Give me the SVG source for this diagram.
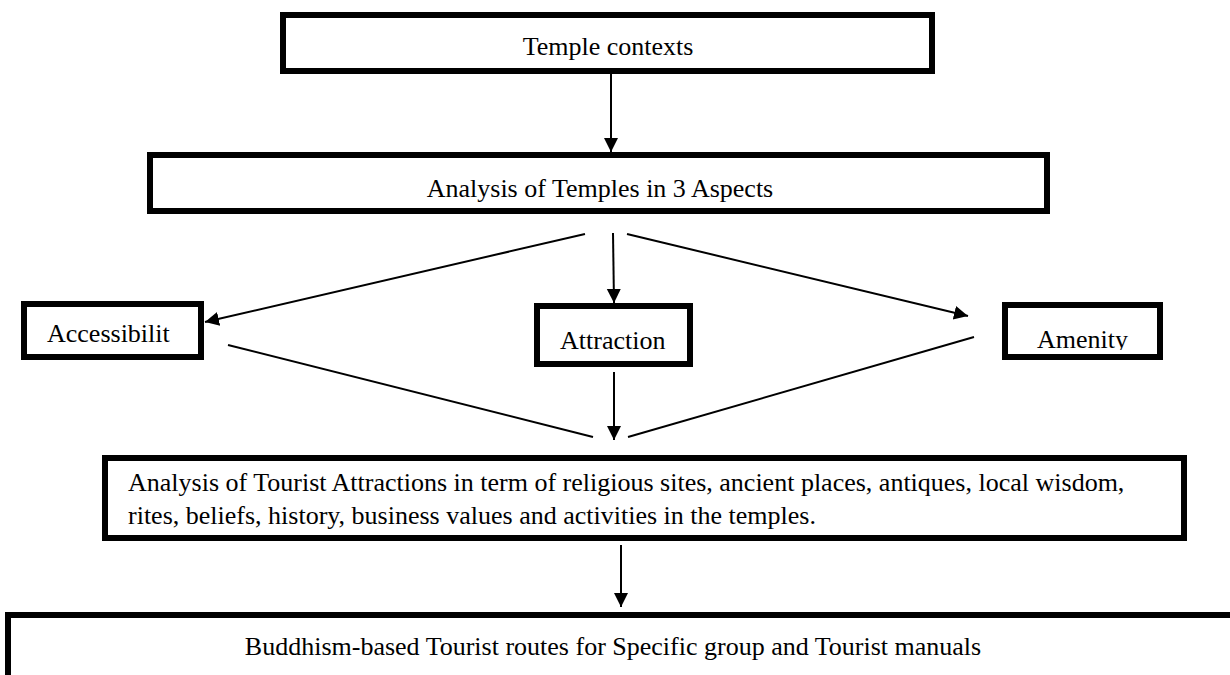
<svg xmlns="http://www.w3.org/2000/svg" width="1230" height="675" viewBox="0 0 1230 675">
<style>
.box{fill:#fff;stroke:#000;stroke-width:6}
.t{font-family:"Liberation Serif","DejaVu Serif","Noto Serif",serif;font-size:26px;fill:#000}
.c{text-anchor:middle}
.ln{stroke:#000;stroke-width:2;fill:none}
</style>
<defs>
<marker id="ah" viewBox="0 0 14 20" refX="14" refY="10" markerWidth="14" markerHeight="20" markerUnits="userSpaceOnUse" orient="auto">
<path d="M0,3 L14,10 L0,17 Z" fill="#000"/>
</marker>
<clipPath id="amclip"><rect x="1005" y="305" width="155" height="45"/></clipPath>
</defs>
<rect width="1230" height="675" fill="#fff"/>
<g id="n1"><rect class="box" x="283" y="15" width="649" height="56"/><text class="t c" x="608" y="55" font-family="Liberation Serif, serif">Temple contexts</text></g>
<g id="n2"><rect class="box" x="150" y="155" width="897" height="56"/><text class="t c" x="600" y="197" font-family="Liberation Serif, serif">Analysis of Temples in 3 Aspects</text></g>
<g id="n3"><rect class="box" x="24" y="304" width="177" height="53"/><text class="t" x="47" y="342" font-family="Liberation Serif, serif">Accessibilit</text></g>
<g id="n4"><rect class="box" x="537" y="306" width="153" height="58"/><text class="t" x="560" y="349" font-family="Liberation Serif, serif">Attraction</text></g>
<g id="n5"><rect class="box" x="1005" y="305" width="155" height="52"/><text class="t" x="1037" y="348" clip-path="url(#amclip)" font-family="Liberation Serif, serif">Amenity</text></g>
<g id="n6"><rect class="box" x="105" y="458" width="1079" height="80"/><text class="t" x="128" y="491" font-family="Liberation Serif, serif">Analysis of Tourist Attractions in term of religious sites, ancient places, antiques, local wisdom,</text><text class="t" x="128" y="524" font-family="Liberation Serif, serif">rites, beliefs, history, business values and activities in the temples.</text></g>
<g id="n7"><rect class="box" x="8" y="615" width="1240" height="70"/><text class="t c" x="613" y="655" font-family="Liberation Serif, serif">Buddhism-based Tourist routes for Specific group and Tourist manuals</text></g>
<g id="connectors">
<line class="ln" x1="611" y1="74" x2="611" y2="152" marker-end="url(#ah)"/>
<line class="ln" x1="585" y1="234" x2="205" y2="322" marker-end="url(#ah)"/>
<line class="ln" x1="613" y1="233" x2="614" y2="303" marker-end="url(#ah)"/>
<line class="ln" x1="627" y1="234" x2="968" y2="316" marker-end="url(#ah)"/>
<line class="ln" x1="228" y1="345" x2="593" y2="437"/>
<line class="ln" x1="974" y1="337" x2="628" y2="437"/>
<line class="ln" x1="614" y1="372" x2="614" y2="440" marker-end="url(#ah)"/>
<line class="ln" x1="621" y1="545" x2="621" y2="607" marker-end="url(#ah)"/>
</g>
</svg>
